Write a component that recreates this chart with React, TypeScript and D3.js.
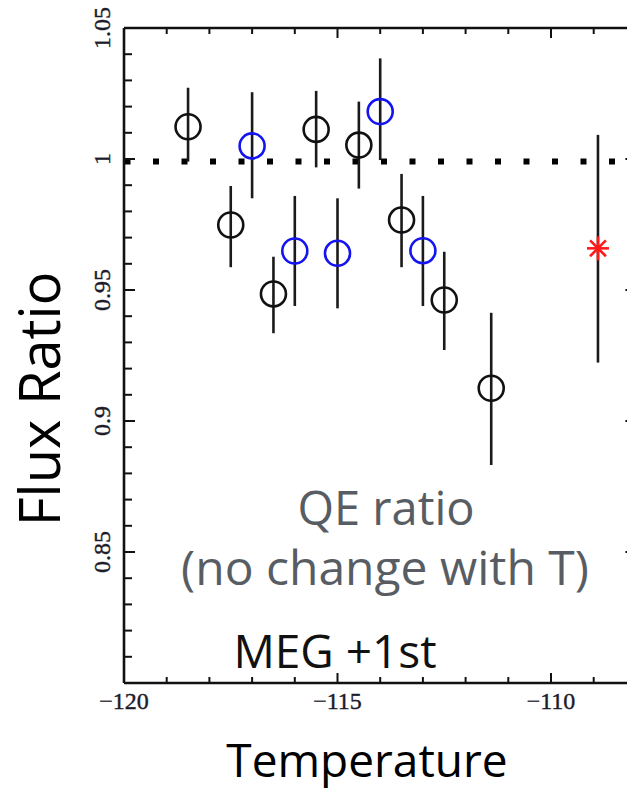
import React from "react";
import * as d3 from "d3";

const blackT = [-118.5, -117.5, -116.5, -115.5, -114.5, -113.5, -112.5, -111.4];
const blackV = [1.0123, 0.9748, 0.9485, 1.0113, 1.0053, 0.9767, 0.9462, 0.9125];
const blackLo = [0.999, 0.9587, 0.9335, 0.9968, 0.9887, 0.9587, 0.9271, 0.8832];
const blackHi = [1.0272, 0.9897, 0.9627, 1.026, 1.0219, 0.9943, 0.9646, 0.9413];

const blueT = [-117, -116, -115, -114, -113];
const blueV = [1.005, 0.9649, 0.964, 1.0181, 0.965];
const blueLo = [0.985, 0.9439, 0.943, 0.9996, 0.9439];
const blueHi = [1.0255, 0.9859, 0.985, 1.0384, 0.9859];

const starT = [-108.9];
const starV = [0.9659];
const starLo = [0.9223];
const starHi = [1.0092];

const refLevel = 0.999;

const xMajor = [-120, -115, -110];
const xMinor = d3.range(-120, -107, 1);
const yMajor = [0.85, 0.9, 0.95, 1, 1.05];
const yMinor = d3.range(80, 106, 1).map((d) => d / 100);
const yLabels = ["0.85", "0.9", "0.95", "1", "1.05"];

export default function App() {
  const W = 627;
  const H = 789;
  const x = d3.scaleLinear().domain([-120, -108]).range([124, 636.4]);
  const y = d3.scaleLinear().domain([0.8, 1.05]).range([683, 28]);
  const left = x(-120);
  const right = x(-108);
  const top = y(1.05);
  const bottom = y(0.8);
  const serif = "'Liberation Serif', 'Times New Roman', serif";
  const sans = "'Open Sans', 'Noto Sans', sans-serif";
  const isMajorX = (t: number) => xMajor.some((m) => Math.abs(m - t) < 1e-6);
  const isMajorY = (t: number) => yMajor.some((m) => Math.abs(m - t) < 1e-6);

  const errBars = (T: number[], lo: number[], hi: number[], key: string) =>
    T.map((t, i) => (
      <line key={key + i} x1={x(t)} x2={x(t)} y1={y(lo[i])} y2={y(hi[i])} stroke="#1a1a1a" strokeWidth={2.6} />
    ));

  return (
    <div style={{ position: "absolute", left: 0, top: 0 }}>
      <svg width={W} height={H} style={{ display: "block", background: "#fff" }}>
        <defs>
          <filter id="blurS" x="-10%" y="-200%" width="120%" height="500%">
            <feGaussianBlur stdDeviation="2.5" />
          </filter>
          <clipPath id="plotClip">
            <rect x={left} y={top} width={right - left} height={bottom - top} />
          </clipPath>
        </defs>

        {/* reference dotted line with shadow */}
        <g clipPath="url(#plotClip)">
          <line x1={left} x2={right} y1={y(refLevel) + 6} y2={y(refLevel) + 6} stroke="#888" strokeWidth={8}
            strokeDasharray="8 20.5" strokeDashoffset={1.5} filter="url(#blurS)" opacity={0.45} />
          <line x1={left} x2={right} y1={y(refLevel)} y2={y(refLevel)} stroke="#000" strokeWidth={6}
            strokeDasharray="6 22.5" strokeDashoffset={-0.5} />
        </g>

        {/* frame */}
        <g stroke="#111" strokeWidth={2.6} fill="none">
          <line x1={left} x2={right} y1={top} y2={top} />
          <line x1={left} x2={right} y1={bottom} y2={bottom} />
          <line x1={left} x2={left} y1={top} y2={bottom} />
          <line x1={right} x2={right} y1={top} y2={bottom} />
        </g>
        <g stroke="#111" strokeWidth={2}>
          {xMinor.map((t) => {
            const L = isMajorX(t) ? 10 : 6;
            return (
              <g key={"xt" + t}>
                <line x1={x(t)} x2={x(t)} y1={bottom} y2={bottom - L} />
                <line x1={x(t)} x2={x(t)} y1={top} y2={top + L} />
              </g>
            );
          })}
          {yMinor.map((t) => {
            const L = isMajorY(t) ? 11 : 8;
            return (
              <g key={"yt" + t}>
                <line x1={left} x2={left + L} y1={y(t)} y2={y(t)} />
                <line x1={right} x2={right - L} y1={y(t)} y2={y(t)} />
              </g>
            );
          })}
        </g>

        {/* tick labels */}
        <g fontFamily={serif} fontSize={24} fill="#1b1b2a" textAnchor="middle" stroke="#1b1b2a" strokeWidth={0.4}>
          {xMajor.map((t) => (
            <text key={"xl" + t} x={x(t)} y={709}>
              {"\u2212" + Math.abs(t)}
            </text>
          ))}
          {yMajor.map((t, i) => (
            <text key={"yl" + t} transform={`translate(110,${y(t)}) rotate(-90)`} x={0} y={0}>
              {yLabels[i]}
            </text>
          ))}
        </g>

        {/* error bars */}
        {errBars(blackT, blackLo, blackHi, "be")}
        {errBars(blueT, blueLo, blueHi, "ue")}
        {errBars(starT, starLo, starHi, "se")}

        {/* markers */}
        {blackT.map((t, i) => (
          <circle key={"bc" + i} cx={x(t)} cy={y(blackV[i])} r={12.5} fill="none" stroke="#111" strokeWidth={2.6} />
        ))}
        {blueT.map((t, i) => (
          <circle key={"uc" + i} cx={x(t)} cy={y(blueV[i])} r={12.5} fill="none" stroke="#1414f0" strokeWidth={2.6} />
        ))}
        {starT.map((t, i) => {
          const cx = x(t);
          const cy = y(starV[i]);
          const r = 11;
          const d = r * 0.72;
          return (
            <g key={"st" + i} stroke="#ff1a1a" strokeWidth={2.6}>
              <line x1={cx - r} x2={cx + r} y1={cy} y2={cy} />
              <line x1={cx} x2={cx} y1={cy - r - 1} y2={cy + r + 1} />
              <line x1={cx - d} x2={cx + d} y1={cy - d} y2={cy + d} />
              <line x1={cx - d} x2={cx + d} y1={cy + d} y2={cy - d} />
            </g>
          );
        })}

        {/* annotations */}
        <g fontFamily={sans} textAnchor="middle">
          <text x={386} y={525} fontSize={47} fill="#585d64">QE ratio</text>
          <text x={385} y={585} fontSize={48} fill="#585d64">(no change with T)</text>
          <text x={335} y={668} fontSize={46} fill="#111">MEG +1st</text>
          <text x={367} y={777} fontSize={46} fill="#000">Temperature</text>
          <text transform="translate(60,399) rotate(-90)" fontSize={56} fill="#000">Flux Ratio</text>
        </g>
      </svg>
    </div>
  );
}
